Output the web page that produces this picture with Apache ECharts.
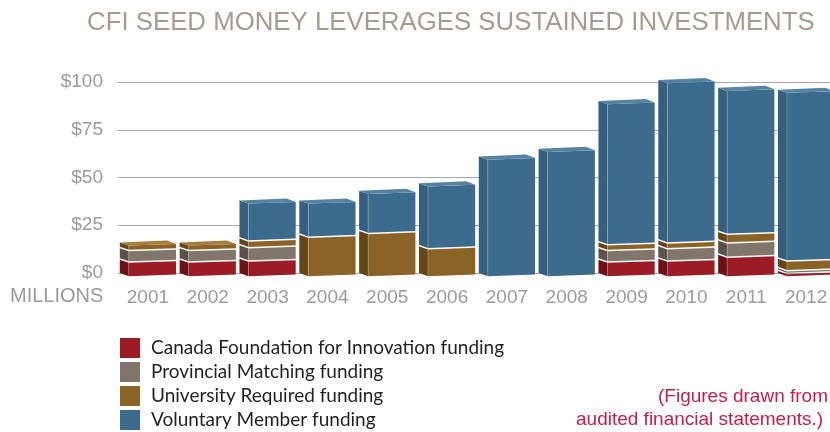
<!DOCTYPE html>
<html>
<head>
<meta charset="utf-8">
<script src="https://cdn.jsdelivr.net/npm/echarts@6/dist/echarts.min.js"></script>
<style>
  html, body { margin: 0; padding: 0; background: #fff; overflow: hidden; }
  #chart { width: 842px; height: 432px; }
</style>
</head>
<body>
<div id="chart"></div>
<script>
// values in $ millions
var years = ['2001','2002','2003','2004','2005','2006','2007','2008','2009','2010','2011','2012'];
var cfi        = [7,   7,   7.5, 0,  0,  0,  0,  0,  7,  7.5, 9.5, 1];
var provincial = [6,   6,   7,   0,  0,  0,  0,  0,  6,  6.5, 7.5, 1.5];
var university = [3,   3,   3.5, 20, 22, 14, 0,  0,  3,  3,   4.5, 5];
var voluntary  = [0,   0,   20,  18, 21, 33, 61, 65, 74, 84,  75.5, 88.5];
var yTicks = [0, 25, 50, 75, 100];

var names = [
  'Canada Foundation for Innovation funding',
  'Provincial Matching funding',
  'University Required funding',
  'Voluntary Member funding'
];
var values = [cfi, provincial, university, voluntary];
// front / side / top shades for each segment
var shades = [
  ['#9b1c24', '#6c1117', '#b33a40'],
  ['#81766c', '#5a524b', '#9a9087'],
  ['#8c6326', '#664518', '#a67d3d'],
  ['#3c6b8d', '#345f7e', '#5683a2']
];

// stack the segments: [index, start, end, isTop]
function buildSeries(k) {
  var out = [];
  for (var i = 0; i < years.length; i++) {
    var start = 0;
    for (var j = 0; j < k; j++) start += values[j][i];
    var end = start + values[k][i];
    var top = 1;
    for (var j2 = k + 1; j2 < values.length; j2++) if (values[j2][i] > 0) top = 0;
    if (values[k][i] > 0) out.push([i, start, end, top]);
  }
  return out;
}

function makeRender(k) {
  var c = shades[k];
  return function (params, api) {
    var idx = api.value(0), start = api.value(1), end = api.value(2), isTop = api.value(3);
    var band = api.size([1, 0])[0];
    var w = band * 0.94;
    var cx = api.coord([idx, 0])[0];
    var xl = cx - w / 2, xr = cx + w / 2;
    var dx = 9, fy = 3.5, s = 2;
    var yb = api.coord([idx, start])[1];
    var yt = api.coord([idx, end])[1];
    if (start > 0) yb -= 1.5;
    function sl(x) { return -s * (x - xl) / w; }
    var xf = xl + dx;
    var kids = [];
    // side face
    kids.push({ type: 'polygon', shape: { points: [
      [xl, yt + sl(xl)], [xf, yt + fy + sl(xf)], [xf, yb + fy + sl(xf)], [xl, yb + sl(xl)]
    ] }, style: { fill: c[1] } });
    // front face
    kids.push({ type: 'polygon', shape: { points: [
      [xf, yt + fy + sl(xf)], [xr, yt + fy + sl(xr)], [xr, yb + fy + sl(xr)], [xf, yb + fy + sl(xf)]
    ] }, style: { fill: c[0] } });
    // edge highlight
    kids.push({ type: 'line', shape: { x1: xf, y1: yt + fy + sl(xf), x2: xf, y2: yb + fy + sl(xf) },
      style: { stroke: 'rgba(255,255,255,0.22)', lineWidth: 1 } });
    if (isTop) {
      kids.push({ type: 'polygon', shape: { points: [
        [xl, yt + sl(xl)], [xr - dx, yt + sl(xr)], [xr, yt + fy + sl(xr)], [xf, yt + fy + sl(xf)]
      ] }, style: { fill: c[2] } });
    }
    return { type: 'group', children: kids };
  };
}

var series = names.map(function (n, k) {
  return {
    name: n,
    type: 'custom',
    renderItem: makeRender(k),
    itemStyle: { color: shades[k][0] },
    encode: { x: 0, y: [1, 2] },
    data: buildSeries(k),
    z: 2
  };
});

var chart = echarts.init(document.getElementById('chart'));
chart.setOption({
  animation: false,
  backgroundColor: '#ffffff',
  title: {
    text: 'CFI SEED MONEY LEVERAGES SUSTAINED INVESTMENTS',
    left: 82, top: 5,
    textStyle: { fontFamily: 'Liberation Sans', fontSize: 25.8, fontWeight: 'normal', color: '#a79b90' }
  },
  grid: { left: 118, right: 6, top: 82, bottom: 159 },
  xAxis: {
    type: 'category',
    data: years,
    axisLine: { show: false },
    axisTick: { show: false },
    axisLabel: { fontFamily: 'Liberation Sans', fontSize: 19, color: '#9b9b9b', margin: 15 }
  },
  yAxis: {
    type: 'value',
    min: 0, max: 100, interval: 25,
    axisLine: { show: false },
    axisTick: { show: false },
    splitLine: { lineStyle: { color: '#a8a8a8', width: 1 } },
    axisLabel: {
      fontFamily: 'Liberation Sans', fontSize: 19, color: '#9b9b9b', margin: 15,
      formatter: function (v) { return yTicks.indexOf(v) >= 0 ? '$' + v : ''; }
    }
  },
  legend: {
    orient: 'vertical',
    left: 120, top: 338, height: 94,
    padding: 0,
    itemWidth: 20, itemHeight: 20, itemGap: 4,
    icon: 'rect',
    selectedMode: false,
    textStyle: { fontFamily: 'Lato', fontSize: 19, color: '#231f20', padding: [0, 0, 0, 6] },
    data: names
  },
  graphic: [
    { type: 'text', left: 10, top: 286, style: { text: 'MILLIONS', font: '20px "Liberation Sans"', fill: '#9b9b9b' } },
    { type: 'text', left: 658, top: 387, style: { text: '(Figures drawn from', font: '19px "Liberation Sans"', fill: '#c51d4b' } },
    { type: 'text', left: 576, top: 410, style: { text: 'audited financial statements.)', font: '19px "Liberation Sans"', fill: '#c51d4b' } }
  ],
  series: series
});
</script>
</body>
</html>
